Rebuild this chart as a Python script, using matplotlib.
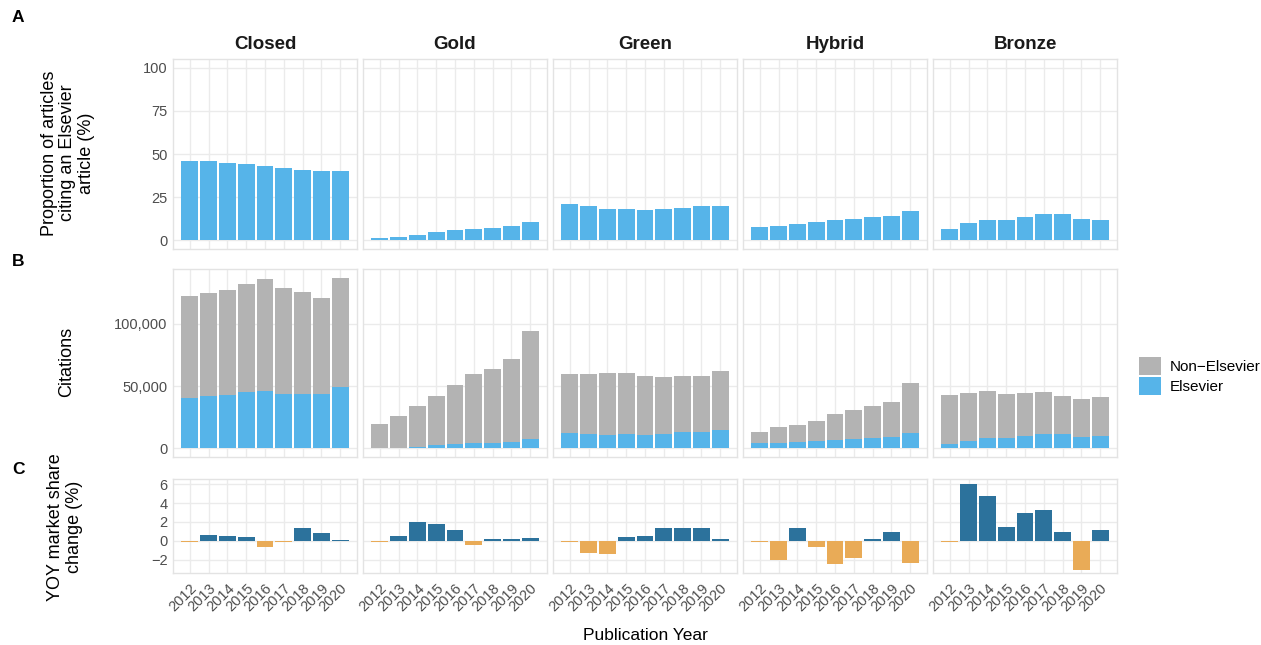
import matplotlib
matplotlib.use("Agg")
import matplotlib.pyplot as plt
import numpy as np
from matplotlib.ticker import FuncFormatter

plt.rcParams['font.family'] = ['Liberation Sans', 'DejaVu Sans']

years = [2012, 2013, 2014, 2015, 2016, 2017, 2018, 2019, 2020]
oa_types = ["Closed", "Gold", "Green", "Hybrid", "Bronze"]

# A: proportion of articles citing an Elsevier article (%)
prop_closed = [45.9, 45.9, 44.8, 44.2, 43.0, 41.9, 40.7, 40.1, 40.1]
prop_gold = [1.2, 1.7, 2.9, 4.7, 5.8, 6.4, 7.0, 8.1, 10.5]
prop_green = [20.9, 19.8, 18.0, 18.0, 17.4, 18.0, 18.6, 19.8, 19.8]
prop_hybrid = [7.6, 8.1, 9.3, 10.5, 11.6, 12.2, 13.4, 14.0, 16.9]
prop_bronze = [6.4, 9.9, 11.6, 11.6, 13.4, 15.1, 15.1, 12.2, 11.6]

# B: citations, total and Elsevier part
total_closed = [122700, 125100, 127500, 132300, 136300, 129100, 125900, 121100, 137100]
els_closed = [40300, 41900, 42700, 45100, 45900, 43500, 43500, 43500, 49100]
total_gold = [19500, 25900, 33900, 41900, 50700, 59500, 63500, 71500, 93900]
els_gold = [300, 300, 1100, 2700, 3500, 4300, 4300, 5100, 7500]
total_green = [59500, 59500, 60300, 60300, 57900, 57100, 57900, 57900, 61900]
els_green = [12300, 11500, 10700, 11500, 10700, 11500, 13100, 13100, 14700]
total_hybrid = [13100, 17100, 18700, 21900, 27500, 30700, 33900, 37100, 52300]
els_hybrid = [4300, 4300, 5100, 5900, 6700, 7500, 8300, 9100, 12300]
total_bronze = [42700, 44300, 45900, 43500, 44300, 45100, 41900, 39500, 41100]
els_bronze = [3500, 5900, 8300, 8300, 9900, 11500, 11500, 9100, 9900]

# C: year-on-year market share change (%)
yoy_closed = [-0.1, 0.67, 0.56, 0.46, -0.70, -0.1, 1.40, 0.88, 0.14]
yoy_gold = [-0.1, 0.56, 2.04, 1.82, 1.19, -0.39, 0.25, 0.25, 0.35]
yoy_green = [-0.1, -1.33, -1.44, 0.46, 0.56, 1.40, 1.40, 1.40, 0.25]
yoy_hybrid = [-0.1, -2.07, 1.40, -0.70, -2.49, -1.86, 0.25, 0.98, -2.39]
yoy_bronze = [-0.1, 6.04, 4.77, 1.51, 2.98, 3.30, 0.98, -3.12, 1.19]

props = [prop_closed, prop_gold, prop_green, prop_hybrid, prop_bronze]
totals = [total_closed, total_gold, total_green, total_hybrid, total_bronze]
elss = [els_closed, els_gold, els_green, els_hybrid, els_bronze]
yoys = [yoy_closed, yoy_gold, yoy_green, yoy_hybrid, yoy_bronze]

c_els = "#56B4E9"
c_non = "#B3B3B3"
c_pos = "#2C729C"
c_neg = "#E9AB57"
grid_c = "#EBEBEB"
tick_c = "#4D4D4D"

W, H = 1261, 645
fig = plt.figure(figsize=(W / 100, H / 100), dpi=100)

col_left = [173, 363, 553, 743, 933]
col_w = 184
rows = {"A": (59, 249), "B": (269, 457), "C": (479, 573)}


def make_ax(x0, y0, y1):
    ax = fig.add_axes([x0 / W, 1 - y1 / H, col_w / W, (y1 - y0) / H])
    ax.set_axisbelow(True)
    ax.grid(True, color=grid_c, linewidth=1.0)
    for s in ax.spines.values():
        s.set_color("#E3E3E3")
        s.set_linewidth(1.0)
    ax.tick_params(length=0, pad=4, labelsize=10.5, labelcolor=tick_c)
    ax.set_xlim(2011.1, 2020.9)
    ax.set_xticks(years)
    return ax


for i, name in enumerate(oa_types):
    x0 = col_left[i]

    # row A
    ax = make_ax(x0, *rows["A"])
    ax.bar(years, props[i], width=0.9, color=c_els)
    ax.set_ylim(-5, 105)
    ax.set_yticks([0, 25, 50, 75, 100])
    ax.set_xticklabels([])
    ax.set_title(name, fontsize=13.5, fontweight="bold", pad=7, color="#1A1A1A")
    if i > 0:
        ax.set_yticklabels([])

    # row B
    ax = make_ax(x0, *rows["B"])
    non = np.array(totals[i]) - np.array(elss[i])
    ax.bar(years, elss[i], width=0.9, color=c_els, label="Elsevier")
    ax.bar(years, non, width=0.9, bottom=elss[i], color=c_non, label="Non\u2212Elsevier")
    ax.set_ylim(-6900, 144000)
    ax.set_yticks([0, 50000, 100000])
    ax.yaxis.set_major_formatter(FuncFormatter(lambda v, p: f"{int(v):,}"))
    ax.set_xticklabels([])
    if i > 0:
        ax.set_yticklabels([])
    if i == 4:
        handles, labels = ax.get_legend_handles_labels()
        fig.legend(handles[::-1], labels[::-1], loc="center left",
                   bbox_to_anchor=(1139 / W, 1 - 376 / H), frameon=False,
                   fontsize=11, handlelength=1.45, handleheight=1.45,
                   handletextpad=0.55, labelspacing=0.1, borderaxespad=0,
                   borderpad=0)

    # row C
    ax = make_ax(x0, *rows["C"])
    cols = [c_pos if v > 0 else c_neg for v in yoys[i]]
    ax.bar(years, yoys[i], width=0.9, color=cols)
    ax.set_ylim(-3.4, 6.55)
    ax.set_yticks([-2, 0, 2, 4, 6])
    ax.set_yticklabels(["\u22122", "0", "2", "4", "6"])
    ax.set_xticklabels([str(y) for y in years], rotation=45, ha="right",
                       va="top", rotation_mode="anchor")
    ax.tick_params(axis="x", pad=6)
    if i > 0:
        ax.set_yticklabels([])

# y axis titles placed like the reference
fig.text(68 / W, 1 - 153 / H, "Proportion of articles\nciting an Elsevier\narticle (%)",
         fontsize=13, rotation=90, ha="center", va="center", linespacing=1.1,
         multialignment="center")
fig.text(67 / W, 1 - 362 / H, "Citations", fontsize=13, rotation=90,
         ha="center", va="center")
fig.text(65 / W, 1 - 527 / H, "YOY market share\nchange (%)", fontsize=13,
         rotation=90, ha="center", va="center", linespacing=1.1,
         multialignment="center")

for lab, yy in [("A", 18), ("B", 262), ("C", 470)]:
    fig.text(12 / W, 1 - yy / H, lab, fontsize=12.5, fontweight="bold",
             va="center", ha="left")

fig.text(645 / W, 1 - 635 / H, "Publication Year", fontsize=12.5,
         ha="center", va="center")

fig.savefig("out.png", dpi=100)
